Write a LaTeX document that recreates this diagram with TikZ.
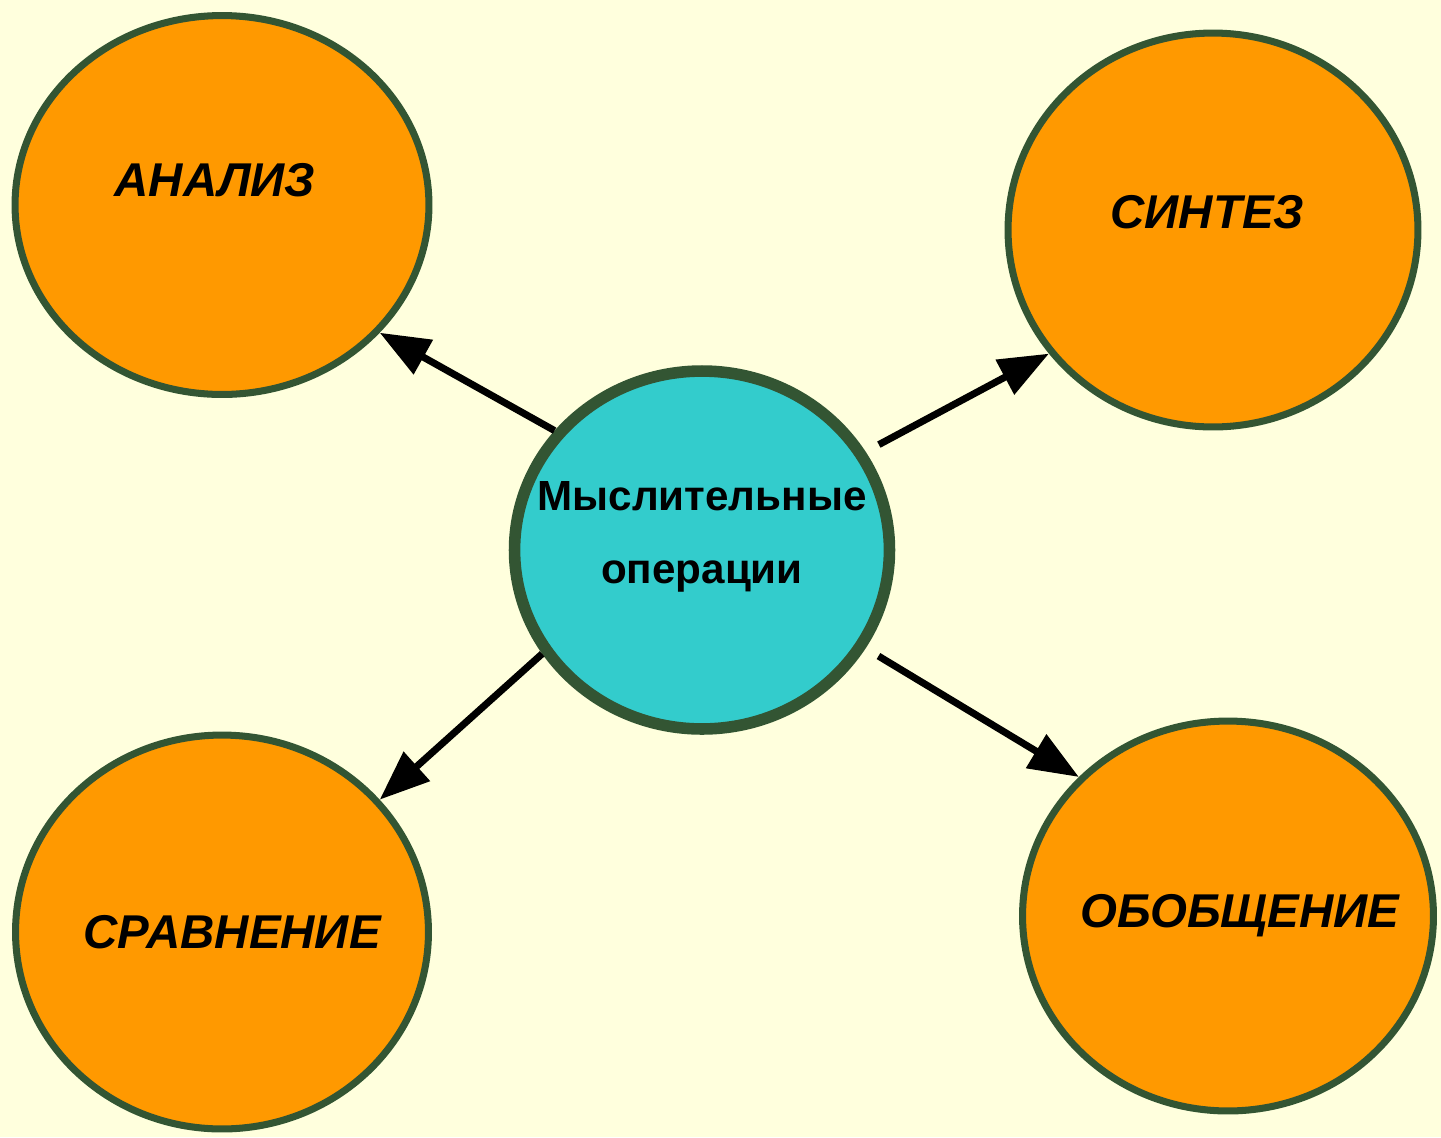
\documentclass[tikz,border=0pt]{standalone}
\usepackage{fontspec}
\setmainfont{Liberation Sans}
\usetikzlibrary{shapes.geometric, arrows.meta}
\definecolor{bgyellow}{HTML}{FFFFDD}
\definecolor{rimgreen}{HTML}{335533}
\definecolor{opfill}{HTML}{FF9900}
\definecolor{midfill}{HTML}{33CCCC}
\tikzstyle{operation} = [ellipse, draw=rimgreen, line width=4pt, fill=opfill, inner sep=0pt]
\tikzstyle{optext} = [font=\fontsize{27}{31}\selectfont\bfseries\itshape]
\tikzstyle{midop} = [ellipse, draw=rimgreen, line width=6.6pt, fill=midfill, minimum width=7.5cm, minimum height=7.16cm, inner sep=0pt]
\tikzstyle{arrow} = [line width=4pt, -{Triangle[length=1cm, width=0.76cm]}]

\begin{document}
\begin{tikzpicture}[x=0.02cm, y=-0.02cm]
        \fill [bgyellow] (0,0) rectangle (1441,1137);
        \useasboundingbox (0,0) rectangle (1441,1137);
        \node (analiz) [operation, minimum width=8.28cm, minimum height=7.58cm,
            label={[optext, xshift=-0.14cm, yshift=0.5cm]center:АНАЛИЗ}] at (222,205) {};
        \node (sintez) [operation, minimum width=8.2cm, minimum height=7.88cm,
            label={[optext, xshift=-0.12cm, yshift=0.36cm]center:СИНТЕЗ}] at (1213,230) {};
        \node (sravn) [operation, minimum width=8.26cm, minimum height=7.88cm,
            label={[optext, xshift=0.2cm]center:СРАВНЕНИЕ}] at (222,932) {};
        \node (obob) [operation, minimum width=8.22cm, minimum height=7.8cm,
            label={[optext, xshift=0.24cm]center:ОБОБЩЕНИЕ}] at (1228,916) {};
        \node (mid) [midop, label={[align=center, yshift=0.26cm,
            font=\fontsize{24}{41.5}\selectfont\bfseries]center:Мыслительные\\операции}] at (702,550) {};

        \draw [arrow] (mid.141) -- (analiz.-39);
        \draw [arrow, shorten <=0.3cm] (mid.31) -- (sintez.-143);
        \draw [arrow] (mid.-147) -- (sravn.40);
        \draw [arrow, shorten <=0.3cm] (mid.-31) -- (obob.137);
    \end{tikzpicture}
\end{document}
